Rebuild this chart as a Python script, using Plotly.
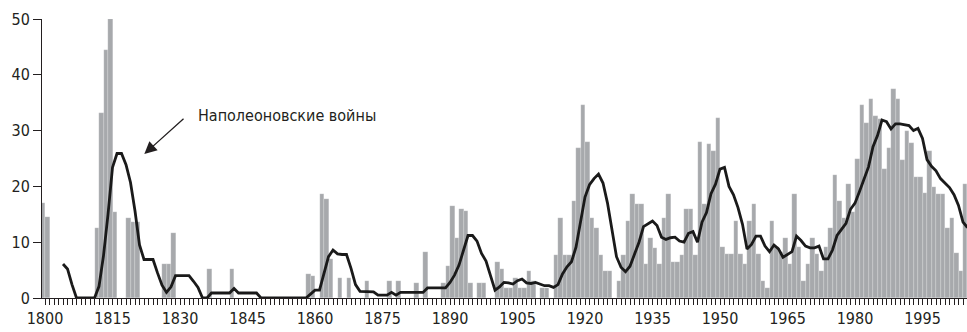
import plotly.graph_objects as go

# Annual counts, 1800-2005 (one value per year)
years = list(range(1800, 2006))
counts = [
    17.0, 14.5, 0, 0, 0, 0, 0, 0, 0, 0,                      # 1800-1809
    0, 0, 12.5, 33.2, 44.5, 50.0, 15.5, 0, 0, 14.4,          # 1810-1819
    13.6, 13.6, 0, 0, 0, 0, 0, 6.1, 6.1, 11.7,               # 1820-1829
    0, 0, 0, 0, 0, 0, 0, 5.2, 0, 0,                          # 1830-1839
    0, 0, 5.2, 0, 0, 0, 0, 0, 0, 0,                          # 1840-1849
    0, 0, 0, 0, 0, 0, 0, 0, 0, 4.3,                          # 1850-1859
    4.0, 0, 18.6, 17.7, 7.0, 0, 3.6, 0, 3.6, 0,              # 1860-1869
    0, 0, 3.1, 0, 0, 0, 0, 3.1, 0, 3.1,                      # 1870-1879
    0, 0, 0, 2.7, 0, 8.2, 0, 0, 0, 2.7,                      # 1880-1889
    5.7, 16.4, 10.8, 15.9, 15.6, 2.7, 0, 2.7, 2.7, 0,        # 1890-1899
    0, 6.4, 5.2, 1.8, 1.8, 3.6, 1.8, 1.8, 4.8, 3.1,          # 1900-1909
    0, 1.8, 1.8, 0, 7.7, 14.3, 7.7, 7.7, 17.3, 26.8,         # 1910-1919
    34.5, 28.0, 14.3, 12.5, 7.7, 4.8, 4.8, 0, 3.1, 7.7,      # 1920-1929
    13.8, 18.6, 16.8, 16.8, 6.1, 10.8, 9.0, 6.1, 14.3, 18.6, # 1930-1939
    6.5, 6.5, 7.7, 15.9, 15.9, 7.7, 28.0, 16.8, 27.6, 26.3,  # 1940-1949
    32.3, 9.1, 7.9, 7.9, 13.8, 7.9, 6.1, 13.8, 16.8, 7.9,    # 1950-1959
    3.1, 1.8, 13.8, 9.1, 8.3, 10.8, 6.1, 18.6, 9.1, 3.1,     # 1960-1969
    6.1, 10.8, 7.9, 4.9, 9.1, 12.5, 22.0, 17.3, 14.3, 20.4,  # 1970-1979
    15.5, 25.0, 34.5, 31.4, 35.7, 32.7, 32.1, 23.2, 26.8, 37.5,  # 1980-1989
    35.7, 24.7, 30.0, 27.7, 21.7, 21.7, 18.8, 26.4, 19.9, 18.6,  # 1990-1999
    18.6, 12.6, 14.3, 8.0, 4.9, 20.4,                        # 2000-2005
]

# Smoothed curve, 1804-2005
avg_years = list(range(1804, 2006))
avg_values = [
    6.1, 5.2, 2.4, 0, 0, 0, 0, 0,                            # 1804-1811
    2.1, 7.6, 15.0, 23.4, 25.9, 25.9, 23.9, 20.7,            # 1812-1819
    15.6, 9.5, 6.9, 6.9, 6.9, 4.5, 2.3, 1.0, 2.0, 4.0,       # 1820-1829
    4.0, 4.0, 4.0, 3.0, 1.9, 0, 0, 0.9, 0.9, 0.9,            # 1830-1839
    0.9, 0.9, 1.7, 0.9, 0.9, 0.9, 0.9, 0.9, 0, 0,            # 1840-1849
    0, 0, 0, 0, 0, 0, 0, 0, 0, 0.7,                          # 1850-1859
    1.4, 1.4, 4.5, 7.4, 8.6, 7.9, 7.8, 7.8, 5.3, 2.4,        # 1860-1869
    1.2, 1.2, 1.1, 1.1, 0.5, 0.5, 0.5, 1.0, 0.5, 1.0,        # 1870-1879
    1.0, 1.0, 1.0, 1.0, 1.0, 1.8, 1.8, 1.8, 1.8, 1.8,        # 1880-1889
    2.8, 4.1, 5.9, 8.6, 11.2, 11.2, 10.2, 8.0, 6.6, 4.0,     # 1890-1899
    1.4, 2.0, 2.8, 2.7, 2.5, 3.1, 3.4, 2.7, 2.6, 2.8,        # 1900-1909
    2.5, 2.2, 2.2, 1.9, 2.4, 4.3, 5.6, 6.5, 9.1, 13.6,       # 1910-1919
    18.1, 20.3, 21.4, 22.2, 20.6, 17.0, 12.0, 7.4, 5.5, 4.7, # 1920-1929
    5.7, 8.0, 10.0, 12.8, 13.3, 13.8, 13.0, 10.9, 10.5, 10.8,  # 1930-1939
    10.9, 10.2, 10.0, 11.6, 11.9, 10.0, 13.6, 15.3, 18.7, 20.4,  # 1940-1949
    23.1, 23.4, 20.0, 18.5, 16.2, 13.2, 8.8, 9.6, 11.1, 11.1,  # 1950-1959
    9.3, 8.3, 9.5, 8.8, 7.3, 7.8, 8.3, 11.1, 10.3, 9.3,      # 1960-1969
    9.0, 9.0, 9.3, 7.0, 7.0, 8.6, 11.2, 12.3, 13.4, 15.9,    # 1970-1979
    17.0, 19.1, 21.2, 23.5, 27.1, 29.1, 31.9, 31.6, 30.3, 31.2,  # 1980-1989
    31.2, 31.0, 30.9, 30.0, 30.4, 28.6, 24.8, 23.6, 22.8, 21.4,  # 1990-1999
    20.6, 19.8, 18.5, 16.6, 13.6, 12.6,                      # 2000-2005
]

annotation_text = "Наполеоновские войны"

FONT = "DejaVu Sans Condensed, DejaVu Sans, sans-serif"
INK = "#231f20"
BAR = "#a7a9ac"

fig = go.Figure()

# each year's bar ends at that year's tick
fig.add_trace(go.Bar(
    x=years, y=counts, width=1, offset=-1,
    marker=dict(color=BAR, line=dict(color="rgba(255,255,255,0.45)", width=0.4)),
    hoverinfo="x+y",
))

fig.add_trace(go.Scatter(
    x=avg_years, y=avg_values, mode="lines",
    line=dict(color="#1a1a1a", width=2.8),
    hoverinfo="x+y",
))

# arrow pointing at the peak of the curve
fig.add_annotation(
    x=1822.07, y=25.8, xref="x", yref="y",
    ax=40.7, ay=-36.7, axref="pixel", ayref="pixel",
    text="", showarrow=True,
    arrowhead=2, arrowsize=1.9, arrowwidth=1.3, arrowcolor=INK,
)
fig.add_annotation(
    x=1833.5, y=32.7, xref="x", yref="y",
    text=annotation_text, showarrow=False,
    xanchor="left", yanchor="middle",
    font=dict(family=FONT, size=16, color=INK),
)

fig.update_layout(
    width=967, height=332,
    margin=dict(l=42, r=0, t=19, b=34),
    plot_bgcolor="white", paper_bgcolor="white",
    showlegend=False, bargap=0,
    font=dict(family=FONT, size=16, color=INK),
)

fig.update_xaxes(
    range=[1799.33, 2004.89],
    tickmode="linear", tick0=1800, dtick=15,
    ticks="outside", ticklen=6, tickwidth=1, tickcolor=INK,
    showline=True, linecolor=INK, linewidth=1,
    showgrid=False, zeroline=False,
    tickfont=dict(family=FONT, size=16, color=INK),
    minor=dict(ticks="outside", ticklen=6, tickwidth=1, tickcolor=INK,
               tick0=1800, dtick=1, showgrid=False),
)

fig.update_yaxes(
    range=[0, 50],
    tickmode="linear", tick0=0, dtick=10,
    ticks="outside", ticklen=8, tickwidth=1, tickcolor=INK,
    showline=True, linecolor=INK, linewidth=1,
    showgrid=False, zeroline=False,
    tickfont=dict(family=FONT, size=16, color=INK),
)

fig.write_html("out.html")
